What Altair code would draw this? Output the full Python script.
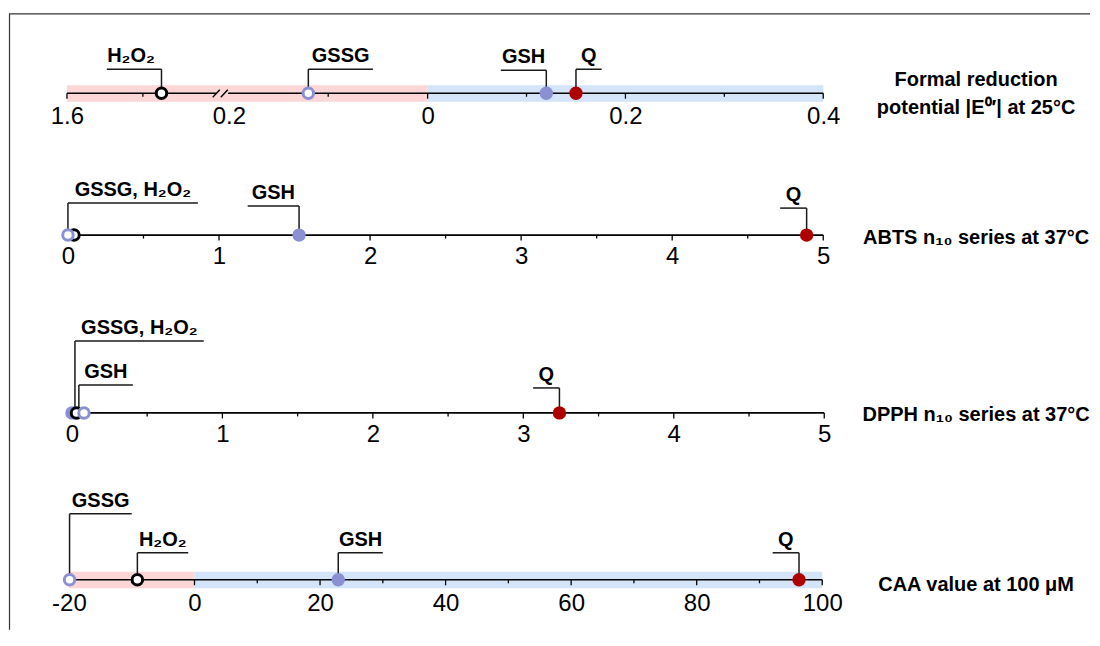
import altair as alt
import pandas as pd

FONT = "Liberation Sans"
LAV = "#8B90D2"
RED = "#AE0000"
BLACK = "#000000"
PINK = "#FDD7D7"
BLUE = "#D4E5FA"
LINE = "#1a1a1a"

# ---------------- data ----------------
compounds = ["GSH", "H₂O₂", "GSSG", "Q"]

e0_values = [0.12, -0.67, -0.12, 0.15]      # signed |E0'| (left of 0 = oxidants)
abts_values = [1.53, 0.04, 0.0, 4.89]
dpph_values = [0.0, 0.03, 0.08, 3.24]
caa_values = [22.9, -9.1, -19.9, 96.3]

# annotation call-outs: label, anchor value, end of leader (data units)
e0_ann_text = ["H₂O₂", "GSSG", "GSH", "Q"]
e0_ann_at = [-0.67, -0.12, 0.12, 0.15]
e0_ann_end = [-1.18, -0.055, 0.074, 0.176]

abts_ann_text = ["GSSG, H₂O₂", "GSH", "Q"]
abts_ann_at = [0.0, 1.53, 4.89]
abts_ann_end = [0.86, 1.19, 4.715]

dpph_ann_text = ["GSSG, H₂O₂", "GSH", "Q"]
dpph_ann_at = [0.02, 0.046, 3.24]
dpph_ann_end = [0.876, 0.405, 3.065]

caa_ann_text = ["GSSG", "H₂O₂", "GSH", "Q"]
caa_ann_at = [-19.9, -9.1, 22.9, 96.3]
caa_ann_end = [-10.0, -1.0, 30.0, 92.1]

# tick labels / ticks
e0_labels = [-1.6, -0.2, 0, 0.2, 0.4]
e0_major = [-1.6, 0, 0.2, 0.4]
e0_minor = [-0.8, -0.1, 0.1, 0.3]
n10_labels = [0, 1, 2, 3, 4, 5]
n10_minor = [0.5, 1.5, 2.5, 3.5, 4.5]
caa_labels = [-20, 0, 20, 40, 60, 80, 100]
caa_minor = [-10, 10, 30, 50, 70, 90]

# coloured ranges
e0_band_start = [-1.6, 0.0]
e0_band_end = [0.0, 0.4]
caa_band_start = [-20, 0]
caa_band_end = [0, 100]
band_kind = ["oxidant", "reductant"]

# axis line pieces (top axis is broken)
e0_seg_start = [-1.6, -0.205]
e0_seg_end = [-0.29, 0.4]
e0_break_x0 = [-0.312, -0.256]
e0_break_x1 = [-0.263, -0.207]

right_titles = [
    "Formal reduction\npotential |E⁰′| at 25°C",
    "ABTS n₁₀ series at 37°C",
    "DPPH n₁₀ series at 37°C",
    "CAA value at 100 μM",
]

# layout (leader heights above axis, px)
e0_lift = [24, 24, 23, 24]
abts_lift = [32, 29, 27]
dpph_lift = [72, 28, 25]
caa_lift = [66, 27, 27, 27]

W = 1084
point_scale = alt.Scale(domain=compounds, range=[LAV, BLACK, LAV, RED])
band_scale = alt.Scale(domain=band_kind, range=[PINK, BLUE])


def panel(values, ann_text, ann_at, ann_end, lift, labels, label_expr, major, minor,
          dom, rng, height, pad, seg_start, seg_end, title, title_y,
          band_start=None, band_end=None, breaks=None, frame=False):
    xs = alt.Scale(domain=dom, range=rng, nice=False, zero=False)
    ys = alt.Scale(domain=[0, height], nice=False, zero=False)
    axis = alt.Axis(values=labels, labelExpr=label_expr, domain=False, ticks=False, tickSize=0,
                    grid=False, labelFont=FONT, labelFontSize=24, labelColor=BLACK,
                    labelPadding=pad, labelFlush=False, labelOverlap=False, title=None)

    def X(f):
        return alt.X(f, type="quantitative", scale=xs, axis=axis)

    def Y(f):
        return alt.Y(f, type="quantitative", scale=ys, axis=None)

    def YD(v):
        return alt.YDatum(v, type="quantitative", scale=ys, axis=None)

    layers = []
    if band_start is not None:
        bdf = pd.DataFrame({"start": band_start, "end": band_end, "kind": band_kind})
        layers.append(
            alt.Chart(bdf).mark_rect().encode(
                x=X("start"), x2="end", y=YD(8), y2=alt.datum(-8.5),
                fill=alt.Fill("kind:N", scale=band_scale, legend=None),
            )
        )
    sdf = pd.DataFrame({"start": seg_start, "end": seg_end})
    layers.append(
        alt.Chart(sdf).mark_rule(color=BLACK, strokeWidth=1.6).encode(
            x=X("start"), x2="end", y=YD(0)
        )
    )
    if breaks is not None:
        kdf = pd.DataFrame({"x0": breaks[0], "x1": breaks[1]})
        layers.append(
            alt.Chart(kdf).mark_rule(color=BLACK, strokeWidth=1.4).encode(
                x=X("x0"), x2="x1", y=YD(-4), y2=alt.datum(3.5)
            )
        )
    layers.append(
        alt.Chart(pd.DataFrame({"v": major})).mark_rule(color=BLACK, strokeWidth=1.3).encode(
            x=X("v"), y=YD(0), y2=alt.datum(-5.5)
        )
    )
    layers.append(
        alt.Chart(pd.DataFrame({"v": minor})).mark_rule(color=BLACK, strokeWidth=1.3).encode(
            x=X("v"), y=YD(0), y2=alt.datum(-3.5)
        )
    )
    adf = pd.DataFrame({"text": ann_text, "at": ann_at, "end": ann_end, "lift": lift})
    layers.append(
        alt.Chart(adf).mark_rule(color=LINE, strokeWidth=1.5).encode(
            x=X("at"), y=Y("lift"), y2=alt.datum(0)
        )
    )
    layers.append(
        alt.Chart(adf).mark_rule(color=LINE, strokeWidth=1.5).encode(
            x=X("at"), x2="end", y=Y("lift")
        )
    )
    pdf = pd.DataFrame({"compound": compounds, "value": values})
    layers.append(
        alt.Chart(pdf).transform_filter(
            alt.FieldOneOfPredicate(field="compound", oneOf=["GSH", "Q"])
        ).mark_circle(size=180, opacity=1).encode(
            x=X("value"), y=YD(0), color=alt.Color("compound:N", scale=point_scale, legend=None)
        )
    )
    layers.append(
        alt.Chart(pdf).transform_filter(
            alt.FieldOneOfPredicate(field="compound", oneOf=["H₂O₂", "GSSG"])
        ).mark_point(shape="circle", filled=False, fill="white", strokeWidth=3, size=110, opacity=1).encode(
            x=X("value"), y=YD(0), stroke=alt.Stroke("compound:N", scale=point_scale, legend=None)
        )
    )
    layers.append(
        alt.Chart(adf).transform_calculate(mid="(datum.at + datum.end) / 2").mark_text(
            font=FONT, fontSize=20, fontWeight="bold", baseline="alphabetic", dy=-7,
            align="center", color=BLACK
        ).encode(x=X("mid"), y=Y("lift"), text="text:N")
    )
    layers.append(
        alt.Chart(pd.DataFrame({"t": [title]})).mark_text(
            font=FONT, fontSize=20, fontWeight="bold", align="center", baseline="middle",
            lineBreak="\n", lineHeight=28, color=BLACK
        ).encode(x=alt.value(968), y=alt.value(title_y), text="t:N")
    )
    if frame:
        fdf = pd.DataFrame({"k": [0]})
        layers.append(
            alt.Chart(fdf).mark_rule(color="#333333", strokeWidth=1.2).encode(
                x=alt.value(0.5), y=alt.value(5.5), y2=alt.value(622)
            )
        )
        layers.append(
            alt.Chart(fdf).mark_rule(color="#333333", strokeWidth=1.2).encode(
                x=alt.value(0), x2=alt.value(1082), y=alt.value(5.5)
            )
        )
    return alt.layer(*layers).resolve_scale(
        color="independent", fill="independent", stroke="independent"
    ).properties(width=W, height=height)


p1 = panel(e0_values, e0_ann_text, e0_ann_at, e0_ann_end, e0_lift,
           e0_labels, "'' + abs(datum.value)", e0_major, e0_minor,
           [-1.6, -0.8, -0.2, 0, 0.4], [58, 134, 220, 419, 815], 85, 11,
           e0_seg_start, e0_seg_end, right_titles[0], 72,
           band_start=e0_band_start, band_end=e0_band_end,
           breaks=(e0_break_x0, e0_break_x1), frame=True)
p2 = panel(abts_values, abts_ann_text, abts_ann_at, abts_ann_end, abts_lift,
           n10_labels, "'' + datum.value", n10_labels, n10_minor,
           [0, 5], [59, 815], 122, 9, [0], [5], right_titles[1], 125)
p3 = panel(dpph_values, dpph_ann_text, dpph_ann_at, dpph_ann_end, dpph_lift,
           n10_labels, "'' + datum.value", n10_labels, n10_minor,
           [0, 5], [63, 816], 158, 10, [0], [5], right_titles[2], 160)
p4 = panel(caa_values, caa_ann_text, caa_ann_at, caa_ann_end, caa_lift,
           caa_labels, "'' + datum.value", caa_labels, caa_minor,
           [-20, 100], [60, 814], 147, 12, [-20], [100], right_titles[3], 152,
           band_start=caa_band_start, band_end=caa_band_end)

chart = alt.vconcat(p1, p2, p3, p4, spacing=20, bounds="flush").properties(
    padding=0
).configure_view(stroke=None)

chart.save("out.html", embed_options={"renderer": "svg", "actions": False})
